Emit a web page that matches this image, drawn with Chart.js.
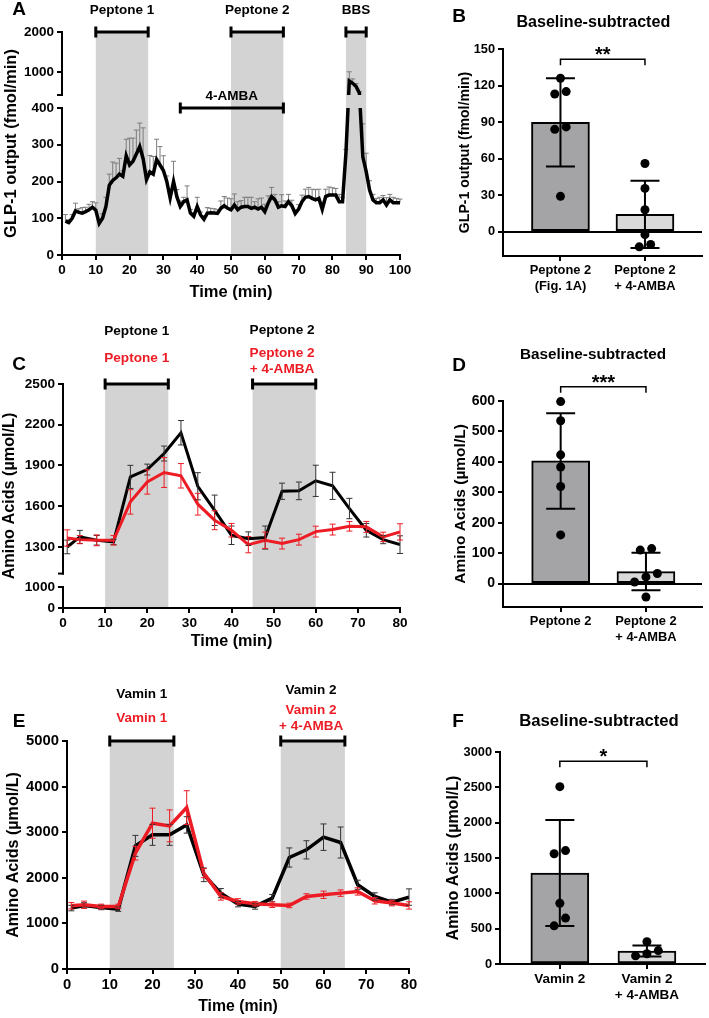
<!DOCTYPE html>
<html>
<head>
<meta charset="utf-8">
<script src="https://cdn.jsdelivr.net/npm/chart.js@4.4.1/dist/chart.umd.min.js"></script>
<style>
  body { margin: 0; background: #fff; width: 709px; height: 1018px; position: relative; overflow: hidden; }
  canvas { position: absolute; }
</style>
</head>
<body>
<canvas id="cA" width="430" height="305" style="left:0;top:0"></canvas>
<canvas id="cB" width="269" height="310" style="left:440px;top:0"></canvas>
<canvas id="cC" width="430" height="345" style="left:0;top:310px"></canvas>
<canvas id="cD" width="269" height="320" style="left:440px;top:330px"></canvas>
<canvas id="cE" width="430" height="368" style="left:0;top:650px"></canvas>
<canvas id="cF" width="269" height="368" style="left:440px;top:650px"></canvas>
<script>
// ---- panel A: GLP-1 output, 1-min samples ----
const timeA = [1,2,3,4,5,6,7,8,9,10,11,12,13,14,15,16,17,18,19,20,
  21,22,23,24,25,26,27,28,29,30,31,32,33,34,35,36,37,38,39,40,
  41,42,43,44,45,46,47,48,49,50,51,52,53,54,55,56,57,58,59,60,
  61,62,63,64,65,66,67,68,69,70,71,72,73,74,75,76,77,78,79,80,
  81,82,83,84,85,86,87,88,89,90,91,92,93,94,95,96,97,98,99,100];
const glpA = [92,88,100,120,116,114,118,123,130,122,
  86,100,132,190,203,210,220,214,270,245,
  255,275,295,262,205,226,220,260,245,230,
  200,155,200,158,132,145,150,114,105,132,
  109,97,114,115,114,113,127,134,127,123,
  136,123,130,132,132,127,130,125,130,118,
  141,159,150,130,134,132,145,134,113,125,
  145,157,159,154,150,154,124,159,163,163,
  163,145,145,277,775,717,640,470,267,227,
  177,150,142,142,150,136,150,142,142,142];
const glpAErr = [18,8,10,21,10,15,12,15,15,20,
  10,12,25,30,50,40,43,15,45,73,
  63,65,64,84,23,45,48,55,50,40,
  15,12,55,20,15,12,38,10,10,25,
  8,10,15,12,12,10,20,25,28,30,
  30,22,18,25,25,30,15,28,25,20,
  20,25,15,15,30,15,20,15,10,12,
  18,22,25,25,28,25,20,20,22,20,
  18,20,12,10,230,110,70,40,90,50,
  25,15,12,15,12,20,15,15,12,10];
const yTicksA = [0, 100, 200, 300, 400, 1000, 2000];
const xTicksA = [0,10,20,30,40,50,60,70,80,90,100];
const peptone1A = [10, 25.5], peptone2A = [50, 65.5], bbsA = [84, 90], ambaA = [35, 65.5];

// ---- panel B ----
const catsB = [["Peptone 2", "(Fig. 1A)"], ["Peptone 2", "+ 4-AMBA"]];
const meanB = [89.8, 14.2];
const sdB = [36.2, 27.6];
const dotsB = [[126, 115, 113, 86, 84, 29], [56, 35.5, 18, -2.5, -10.5, -12.5]];
const yTicksB = [0, 30, 60, 90, 120, 150];

// ---- panel C: amino acids, peptone ----
const timeC = [1,4,8,12,16,20,24,28,32,36,40,44,48,52,56,60,64,68,72,76,80];
const ctrlC = [1300,1374,1349,1337,1816,1870,1988,2141,1747,1570,1386,1361,1369,1710,1713,1787,1750,1583,1423,1354,1317];
const ctrlCErr = [50,48,35,20,85,40,55,90,100,112,68,50,85,60,65,115,100,75,50,30,65];
const ambaC = [1366,1354,1349,1349,1632,1779,1848,1824,1615,1497,1423,1317,1349,1325,1354,1413,1428,1452,1448,1374,1411];
const ambaCErr = [60,30,40,35,90,90,110,90,80,70,50,60,60,40,40,40,40,35,40,35,60];
const yTicksC = [0, 1000, 1300, 1600, 1900, 2200, 2500];
const xTicksC = [0,10,20,30,40,50,60,70,80];
const peptone1C = [10, 25], peptone2C = [45, 60];

// ---- panel D ----
const catsD = ["Peptone 2", ["Peptone 2", "+ 4-AMBA"]];
const meanD = [403, 39.5];
const sdD = [157, 61.5];
const dotsD = [[598, 535, 423, 383, 319, 160], [115, 110, 33, 22, 5, -44]];
const yTicksD = [0, 100, 200, 300, 400, 500, 600];

// ---- panel E: amino acids, Vamin ----
const timeE = [1,4,8,12,16,20,24,28,32,36,40,44,48,52,56,60,64,68,72,76,80];
const ctrlE = [1336,1394,1350,1314,2700,2942,2942,3160,2066,1664,1423,1372,1555,2445,2613,2891,2774,1847,1591,1467,1577];
const ctrlEErr = [60,60,50,50,230,230,230,180,150,100,60,60,80,210,200,290,340,100,80,60,180];
const ambaE = [1387,1409,1372,1372,2540,3197,3139,3540,2102,1591,1482,1431,1409,1394,1591,1628,1664,1701,1496,1445,1394];
const ambaEErr = [70,80,50,50,150,330,350,370,100,80,60,50,60,50,60,80,70,80,70,60,80];
const yTicksE = [0, 1000, 2000, 3000, 4000, 5000];
const xTicksE = [0,10,20,30,40,50,60,70,80];
const vamin1E = [10, 25], vamin2E = [50, 65];

// ---- panel F ----
const catsF = ["Vamin 2", ["Vamin 2", "+ 4-AMBA"]];
const meanF = [1288, 183];
const sdF = [750, 78];
const dotsF = [[2510, 1605, 1560, 860, 650, 540], [315, 190, 145, 115]];
const yTicksF = [0, 500, 1000, 1500, 2000, 2500, 3000];

const FONT = '"Liberation Sans", Arial, Helvetica, sans-serif';
const RED = '#ed1c24';
const SHADE = '#d3d3d3';
Chart.defaults.font.family = FONT;
Chart.defaults.font.weight = 'bold';
Chart.defaults.color = '#000';
Chart.defaults.animation = false;
Chart.defaults.plugins.legend.display = false;
Chart.defaults.plugins.tooltip.enabled = false;

// broken y axis: values are turned into pixel heights above the axis floor
function breakAxis(lowMax, lowK, gap, highMin, highK) {
  const f = v => v <= lowMax ? v * lowK : lowMax * lowK + gap + (v - highMin) * highK;
  f.gap = [lowMax * lowK, lowMax * lowK + gap];
  return f;
}
const mapA = breakAxis(400, 0.3675, 13, 425, 0.04);
const mapC = breakAxis(1000, 0.021, 13.4, 1104, 0.1357);
const same = v => v;

function text(ctx, t, x, y, size, color, base) {
  ctx.save();
  ctx.font = `bold ${size}px ${FONT}`;
  ctx.fillStyle = color || '#000';
  ctx.textAlign = 'center';
  ctx.textBaseline = base || 'middle';
  ctx.fillText(t, x, y);
  ctx.restore();
}

function drawErr(chart, list) {
  const {ctx, scales: {x, y}} = chart;
  (list || []).forEach(e => {
    ctx.save();
    ctx.strokeStyle = e.color;
    ctx.lineWidth = 1;
    e.x.forEach((t, k) => {
      const px = x.getPixelForValue(t);
      const hi = y.getPixelForValue(e.map(e.v[k] + e.err[k]));
      const lo = y.getPixelForValue(e.map(e.up ? e.v[k] : e.v[k] - e.err[k]));
      ctx.beginPath();
      ctx.moveTo(px, lo); ctx.lineTo(px, hi);
      ctx.moveTo(px - e.cap, hi); ctx.lineTo(px + e.cap, hi);
      if (!e.up) { ctx.moveTo(px - e.cap, lo); ctx.lineTo(px + e.cap, lo); }
      ctx.stroke();
    });
    ctx.restore();
  });
}

function makeDecor(s) {
  return {
    id: 'decor',
    beforeDraw(chart) {
      const {ctx, chartArea: a, scales: {x}} = chart;
      ctx.save();
      ctx.fillStyle = SHADE;
      (s.shades || []).forEach(([b, e]) => {
        const x0 = x.getPixelForValue(b), x1 = x.getPixelForValue(e);
        ctx.fillRect(x0, a.top, x1 - x0, a.bottom - a.top);
      });
      ctx.restore();
    },
    beforeDatasetsDraw(chart) {
      const {ctx, scales: {y}} = chart;
      if (s.gap) {
        const pHi = y.getPixelForValue(s.gap[1]), pLo = y.getPixelForValue(s.gap[0]);
        ctx.save();
        ctx.beginPath();
        ctx.rect(0, 0, chart.width, pHi);
        ctx.rect(0, pLo, chart.width, chart.height - pLo);
        ctx.clip();
      }
      if (s.errBehind) drawErr(chart, s.errors);
    },
    afterDatasetDraw(chart, args) {
      if (!s.bars || args.index !== 1) return;
      const {ctx, scales: {x, y}} = chart;
      ctx.save();
      ctx.strokeStyle = '#000';
      ctx.lineWidth = 2;
      s.bars.mean.forEach((m, i) => {
        const px = x.getPixelForValue(i);
        const hi = y.getPixelForValue(m + s.bars.sd[i]), lo = y.getPixelForValue(m - s.bars.sd[i]);
        ctx.beginPath();
        ctx.moveTo(px, lo); ctx.lineTo(px, hi);
        ctx.moveTo(px - 14.5, hi); ctx.lineTo(px + 14.5, hi);
        ctx.moveTo(px - 14.5, lo); ctx.lineTo(px + 14.5, lo);
        ctx.stroke();
      });
      ctx.restore();
    },
    afterDatasetsDraw(chart) {
      if (!s.errBehind) drawErr(chart, s.errors);
      if (s.gap) chart.ctx.restore();
    },
    afterDraw(chart) {
      const {ctx, chartArea: a, scales: {x, y}} = chart;
      // treatment brackets
      ctx.save();
      ctx.strokeStyle = '#000';
      ctx.lineWidth = 3;
      (s.brackets || []).forEach(b => {
        const py = b.y === undefined ? a.top : y.getPixelForValue(b.y);
        const x0 = x.getPixelForValue(b.x0), x1 = x.getPixelForValue(b.x1);
        ctx.beginPath();
        ctx.moveTo(x0, py); ctx.lineTo(x1, py);
        ctx.moveTo(x0, py - 5.5); ctx.lineTo(x0, py + 5.5);
        ctx.moveTo(x1, py - 5.5); ctx.lineTo(x1, py + 5.5);
        ctx.stroke();
      });
      ctx.restore();
      (s.texts || []).forEach(t => {
        const py = (t.y === undefined ? a.top : y.getPixelForValue(t.y)) + t.dy;
        text(ctx, t.t, x.getPixelForValue(t.x), py, t.size || 13.5, t.color);
      });
      // axis break on the y axis
      if (s.gap) {
        const pHi = y.getPixelForValue(s.gap[1]), pLo = y.getPixelForValue(s.gap[0]);
        ctx.save();
        ctx.fillStyle = '#fff';
        ctx.fillRect(a.left - 2, pHi + 1, 4, pLo - pHi - 2);
        ctx.strokeStyle = '#000';
        ctx.lineWidth = 2;
        ctx.beginPath();
        ctx.moveTo(a.left - 5, pHi); ctx.lineTo(a.left + 1, pHi);
        ctx.stroke();
        ctx.restore();
      }
      // significance bracket
      if (s.sig) {
        const py = y.getPixelForValue(s.sig.y);
        const x0 = x.getPixelForValue(0), x1 = x.getPixelForValue(1);
        ctx.save();
        ctx.strokeStyle = '#000';
        ctx.lineWidth = 1.5;
        ctx.beginPath();
        ctx.moveTo(x0, py + 6); ctx.lineTo(x0, py); ctx.lineTo(x1, py); ctx.lineTo(x1, py + 6);
        ctx.stroke();
        ctx.restore();
        text(ctx, s.sig.t, (x0 + x1) / 2, py + 2, 20, '#000', 'alphabetic');
      }
      if (s.title) text(ctx, s.title.t, s.title.x, s.title.y, s.title.size);
      if (s.letter) text(ctx, s.letter.t, s.letter.x, s.letter.y, 19);
    }
  };
}

function axisY(L, min, max, vals, shown, size, title, tSize, tPad) {
  return {
    type: 'linear', min, max,
    afterBuildTicks: sc => { sc.ticks = vals.map(v => ({value: v})); },
    afterFit: sc => { sc.width = L.area.l - L.yBox; },
    ticks: { autoSkip: false, font: {size}, padding: 3, callback: (v, i) => String(shown[i]) },
    grid: { drawOnChartArea: false, color: '#000', lineWidth: 2, tickLength: 5 },
    border: { color: '#000', width: 2 },
    title: { display: true, text: title, font: {size: tSize}, padding: {top: tPad, bottom: 0} }
  };
}

function timePanel(id, L, s) {
  return new Chart(document.getElementById(id), {
    type: 'line',
    data: { datasets: s.datasets },
    options: {
      responsive: false,
      layout: { padding: { left: L.yBox, top: L.area.t, right: L.w - L.area.r, bottom: 0 } },
      elements: { line: { tension: 0 }, point: { radius: 0 } },
      scales: {
        x: {
          type: 'linear', min: s.xTicks[0], max: s.xTicks[s.xTicks.length - 1],
          afterBuildTicks: sc => { sc.ticks = s.xTicks.map(v => ({value: v})); },
          afterFit: sc => { sc.height = L.h - L.area.b; },
          ticks: { autoSkip: false, maxRotation: 0, font: {size: s.tick}, padding: 2 },
          grid: { drawOnChartArea: false, color: '#000', lineWidth: 2, tickLength: 5 },
          border: { color: '#000', width: 2 },
          title: { display: true, text: 'Time (min)', font: {size: s.xt}, padding: {top: 0, bottom: s.xtPad} }
        },
        y: axisY(L, 0, s.map(s.yTicks[s.yTicks.length - 1]), s.yTicks.map(s.map), s.yTicks, s.tick, s.yTitle, s.yt, s.ytPad)
      }
    },
    plugins: [makeDecor(s)]
  });
}

function swarm(vals, pxPerUnit, thr, step) {
  const idx = vals.map((v, i) => i).sort((a, b) => vals[b] - vals[a]);
  const off = vals.map(() => 0);
  let group = [idx[0]];
  const flush = () => group.forEach((k, j) => { off[k] = ((group.length - 1) / 2 - j) * step; });
  for (let n = 1; n < idx.length; n++) {
    if ((vals[idx[n - 1]] - vals[idx[n]]) * pxPerUnit < thr) group.push(idx[n]);
    else { flush(); group = [idx[n]]; }
  }
  flush();
  return off;
}

function barPanel(id, L, s) {
  const pxX = (L.area.r - L.area.l) / (s.xMax - s.xMin);
  const pxY = (L.area.b - L.area.t) / (s.yMax - s.yMin);
  const dots = [];
  s.groups.forEach((vals, g) => {
    const off = swarm(vals, pxY, 8.5, 11.4);
    vals.forEach((v, k) => dots.push({x: g + off[k] / pxX, y: v}));
  });
  return new Chart(document.getElementById(id), {
    type: 'bar',
    data: {
      datasets: [
        { type: 'scatter', data: dots, backgroundColor: '#000', borderWidth: 0, pointRadius: 4.5, clip: false },
        { type: 'bar', data: s.mean.map((m, i) => ({x: i, y: m})), backgroundColor: ['#a4a4a6', '#d9d9d9'],
          borderColor: '#000', borderWidth: 2, borderSkipped: false, barThickness: 58 }
      ]
    },
    options: {
      responsive: false,
      layout: { padding: { left: L.yBox, top: L.area.t, right: L.w - L.area.r, bottom: 0 } },
      scales: {
        x: {
          type: 'linear', min: s.xMin, max: s.xMax, offset: false,
          afterBuildTicks: sc => { sc.ticks = [{value: 0}, {value: 1}]; },
          afterFit: sc => { sc.height = L.h - L.area.b; },
          ticks: { autoSkip: false, maxRotation: 0, font: {size: s.catTick}, padding: 2, callback: (v, i) => s.cats[i] },
          grid: { offset: false, drawOnChartArea: false, color: '#000', lineWidth: 2, tickLength: 5 },
          border: { color: '#000', width: 2 }
        },
        y: Object.assign(axisY(L, s.yMin, s.yMax, s.yTicks, s.yTicks, s.tick, s.yTitle, s.yt, s.ytPad), {
          grid: { drawOnChartArea: true, lineWidth: 2, tickLength: 5, tickColor: '#000',
                  color: c => (c.tick && c.tick.value === 0 && s.yMin < 0) ? '#000' : 'rgba(0,0,0,0)' }
        })
      }
    },
    plugins: [makeDecor(s)]
  });
}

// ---------- A ----------
timePanel('cA', { w: 430, h: 305, yBox: 0, area: { l: 62, t: 32, r: 400, b: 255 } }, {
  datasets: [{ data: timeA.map((t, i) => ({x: t, y: mapA(glpA[i])})), borderColor: '#000', borderWidth: 3.5, fill: false }],
  map: mapA, yTicks: yTicksA, xTicks: xTicksA, gap: mapA.gap, errBehind: true,
  errors: [{ x: timeA, v: glpA, err: glpAErr, map: mapA, up: true, color: '#7d7d7d', cap: 2.5 }],
  shades: [peptone1A, peptone2A, bbsA],
  brackets: [
    { x0: peptone1A[0], x1: peptone1A[1] }, { x0: peptone2A[0], x1: peptone2A[1] },
    { x0: bbsA[0], x1: bbsA[1] }, { x0: ambaA[0], x1: ambaA[1], y: mapA(400) }
  ],
  texts: [
    { t: 'Peptone 1', x: (peptone1A[0] + peptone1A[1]) / 2, dy: -22 },
    { t: 'Peptone 2', x: (peptone2A[0] + peptone2A[1]) / 2, dy: -22 },
    { t: 'BBS', x: (bbsA[0] + bbsA[1]) / 2, dy: -22 },
    { t: '4-AMBA', x: (ambaA[0] + ambaA[1]) / 2, y: mapA(400), dy: -11.5 }
  ],
  letter: { t: 'A', x: 19, y: 10 },
  tick: 13.5, yTitle: 'GLP-1 output (fmol/min)', yt: 16.5, ytPad: 1.6, xt: 16.5, xtPad: 3.1
});

// ---------- B ----------
barPanel('cB', { w: 269, h: 310, yBox: 13, area: { l: 63, t: 49, r: 262, b: 256 } }, {
  cats: catsB, mean: meanB, groups: dotsB, bars: { mean: meanB, sd: sdB },
  xMin: -0.68, xMax: 1.675, yMin: -20, yMax: 150, yTicks: yTicksB,
  sig: { y: 141.5, t: '**' },
  title: { t: 'Baseline-subtracted', x: 153.3, y: 22.3, size: 16.1 },
  letter: { t: 'B', x: 19, y: 17 },
  tick: 12.8, catTick: 12.9, yTitle: 'GLP-1 output (fmol/min)', yt: 14.1, ytPad: 3.5
});

// ---------- C ----------
timePanel('cC', { w: 430, h: 345, yBox: 0, area: { l: 63, t: 74, r: 400, b: 298 } }, {
  datasets: [
    { data: timeC.map((t, i) => ({x: t, y: mapC(ambaC[i])})), borderColor: RED, borderWidth: 3, fill: false },
    { data: timeC.map((t, i) => ({x: t, y: mapC(ctrlC[i])})), borderColor: '#000', borderWidth: 3, fill: false }
  ],
  map: mapC, yTicks: yTicksC, xTicks: xTicksC, gap: mapC.gap,
  errors: [
    { x: timeC, v: ctrlC, err: ctrlCErr, map: mapC, color: '#333', cap: 3 },
    { x: timeC, v: ambaC, err: ambaCErr, map: mapC, color: RED, cap: 3 }
  ],
  shades: [peptone1C, peptone2C],
  brackets: [{ x0: peptone1C[0], x1: peptone1C[1] }, { x0: peptone2C[0], x1: peptone2C[1] }],
  texts: [
    { t: 'Peptone 1', x: 17.5, dy: -52.3, size: 13.6 },
    { t: 'Peptone 1', x: 17.5, dy: -26, size: 13.6, color: RED },
    { t: 'Peptone 2', x: 52, dy: -53.3, size: 13.6 },
    { t: 'Peptone 2', x: 52, dy: -30.7, size: 13.6, color: RED },
    { t: '+ 4-AMBA', x: 52, dy: -14.7, size: 13.6, color: RED }
  ],
  letter: { t: 'C', x: 19, y: 55 },
  tick: 13.6, yTitle: 'Amino Acids (\u00b5mol/L)', yt: 16.2, ytPad: 0, xt: 16.2, xtPad: 3.3
});

// ---------- D ----------
barPanel('cD', { w: 269, h: 320, yBox: 9, area: { l: 63, t: 71, r: 262, b: 277 } }, {
  cats: catsD, mean: meanD, groups: dotsD, bars: { mean: meanD, sd: sdD },
  xMin: -0.676, xMax: 1.657, yMin: -77, yMax: 600, yTicks: yTicksD,
  sig: { y: 647, t: '***' },
  title: { t: 'Baseline-subtracted', x: 153, y: 25, size: 15.3 },
  letter: { t: 'D', x: 19, y: 36 },
  tick: 14, catTick: 12.9, yTitle: 'Amino Acids (\u00b5mol/L)', yt: 15.5, ytPad: 2
});

// ---------- E ----------
timePanel('cE', { w: 430, h: 368, yBox: 2, area: { l: 67, t: 91, r: 409, b: 319 } }, {
  datasets: [
    { data: timeE.map((t, i) => ({x: t, y: ambaE[i]})), borderColor: RED, borderWidth: 3.5, fill: false },
    { data: timeE.map((t, i) => ({x: t, y: ctrlE[i]})), borderColor: '#000', borderWidth: 3.5, fill: false }
  ],
  map: same, yTicks: yTicksE, xTicks: xTicksE,
  errors: [
    { x: timeE, v: ctrlE, err: ctrlEErr, map: same, color: '#333', cap: 3 },
    { x: timeE, v: ambaE, err: ambaEErr, map: same, color: RED, cap: 3 }
  ],
  shades: [vamin1E, vamin2E],
  brackets: [{ x0: vamin1E[0], x1: vamin1E[1] }, { x0: vamin2E[0], x1: vamin2E[1] }],
  texts: [
    { t: 'Vamin 1', x: 17.5, dy: -47 },
    { t: 'Vamin 1', x: 17.5, dy: -22.7, color: RED },
    { t: 'Vamin 2', x: 57.1, dy: -51 },
    { t: 'Vamin 2', x: 57.1, dy: -30.3, color: RED },
    { t: '+ 4-AMBA', x: 57.1, dy: -14.3, color: RED }
  ],
  letter: { t: 'E', x: 19, y: 72 },
  tick: 14.8, yTitle: 'Amino Acids (\u00b5mol/L)', yt: 16.1, ytPad: 1.6, xt: 15.8, xtPad: 1.8
});

// ---------- F ----------
barPanel('cF', { w: 269, h: 368, yBox: 2, area: { l: 60, t: 102, r: 265, b: 314 } }, {
  cats: catsF, mean: meanF, groups: dotsF, bars: { mean: meanF, sd: sdF },
  xMin: -0.687, xMax: 1.661, yMin: 0, yMax: 3000, yTicks: yTicksF,
  sig: { y: 2868, t: '*' },
  title: { t: 'Baseline-subtracted', x: 159, y: 71.7, size: 16.7 },
  letter: { t: 'F', x: 18, y: 72 },
  tick: 12.8, catTick: 13.5, yTitle: 'Amino Acids (\u00b5mol/L)', yt: 16, ytPad: 1.7
});
</script>
</body>
</html>
